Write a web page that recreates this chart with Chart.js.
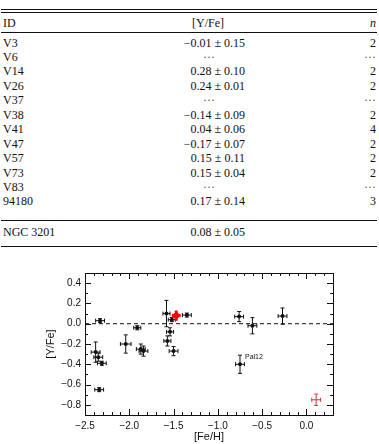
<!DOCTYPE html>
<html>
<head>
<meta charset="utf-8">
<script src="https://cdn.jsdelivr.net/npm/chart.js@4.4.1/dist/chart.umd.min.js"></script>
<style>
  html, body { margin: 0; padding: 0; background: #fff; }
  body { width: 379px; height: 444px; position: relative; overflow: hidden; }
  .t { position: absolute; font-family: "Liberation Serif", "Times New Roman", serif; font-size: 12px; color: #111; line-height: 14px; white-space: nowrap; }
  .rule { position: absolute; left: 1px; width: 376px; background: #111; }
  #wrap { position: absolute; left: 0; top: 262px; width: 379px; height: 182px; }
</style>
</head>
<body>
<div id="table"></div>
<div id="wrap"><canvas id="c" width="379" height="182"></canvas></div>
<script>
// ---------- table data ----------
const starIds   = ['V3', 'V6', 'V14', 'V26', 'V37', 'V38', 'V41', 'V47', 'V57', 'V73', 'V83', '94180'];
const starYFe   = ['\u22120.01 \u00b1 0.15', '\u00b7\u00b7\u00b7', '0.28 \u00b1 0.10', '0.24 \u00b1 0.01', '\u00b7\u00b7\u00b7', '\u22120.14 \u00b1 0.09',
                   '0.04 \u00b1 0.06', '\u22120.17 \u00b1 0.07', '0.15 \u00b1 0.11', '0.15 \u00b1 0.04', '\u00b7\u00b7\u00b7', '0.17 \u00b1 0.14'];
const starN     = ['2', '\u00b7\u00b7\u00b7', '2', '2', '\u00b7\u00b7\u00b7', '2', '4', '2', '2', '2', '\u00b7\u00b7\u00b7', '3'];
const headers   = ['ID', '[Y/Fe]', 'n'];
const meanRow   = ['NGC 3201', '0.08 \u00b1 0.05', ''];

// ---------- chart data ----------
const feh    = [-2.33, -1.91, -2.04, -1.87, -1.84, -2.38, -2.35, -2.31, -2.34, -1.58, -1.52, -1.35, -1.54, -1.57, -1.50, -0.76, -0.61, -0.27, -0.75];
const yfe    = [ 0.03, -0.04, -0.20, -0.25, -0.27, -0.28, -0.33, -0.39, -0.65,  0.10,  0.04, 0.085, -0.08, -0.17, -0.27,  0.07, -0.02, 0.075, -0.40];
const fehErr = [ 0.05,  0.04,  0.06,  0.05,  0.05,  0.05,  0.05,  0.05,  0.05,  0.04,  0.04,  0.05,  0.04,  0.04,  0.05,  0.05,  0.05,  0.05,  0.05];
const yfeErr = [ 0.02,  0.02,  0.09,  0.05,  0.05,  0.10,  0.04,  0.02,  0.02,  0.13,  0.02,  0.02,  0.04,  0.05,  0.045, 0.05,  0.08,  0.08,  0.09];
const clusterFeh = [-1.47], clusterYfe = [0.08], clusterFehErr = [0.05], clusterYfeErr = [0.05];
const sampleFeh  = [0.11],  sampleYfe  = [-0.75], sampleFehErr = [0.05], sampleYfeErr = [0.056];
const refLineY = [0, 0];
const refLineX = [-2.5, 0.3];
const pointLabels = [{ index: 18, text: 'Pal12' }];
const xTickValues = [-2.5, -2.0, -1.5, -1.0, -0.5, 0.0];
const xTickLabels = ['\u22122.5', '\u22122.0', '\u22121.5', '\u22121.0', '\u22120.5', '0.0'];
const yTickValues = [-0.8, -0.6, -0.4, -0.2, 0.0, 0.2, 0.4];
const yTickLabels = ['\u22120.8', '\u22120.6', '\u22120.4', '\u22120.2', '0.0', '0.2', '0.4'];

// ---------- build table ----------
(function () {
  const T = document.getElementById('table');
  function txt(s, x, yc, align, extra) {
    const d = document.createElement('div');
    d.className = 't';
    d.textContent = s;
    d.style.top = (yc - 7) + 'px';
    if (align === 'left') d.style.left = x + 'px';
    else if (align === 'right') d.style.right = (379 - x) + 'px';
    else { d.style.left = (x - 60) + 'px'; d.style.width = '120px'; d.style.textAlign = 'center'; }
    if (extra) Object.assign(d.style, extra);
    T.appendChild(d);
  }
  function rule(y, h) {
    const r = document.createElement('div');
    r.className = 'rule'; r.style.top = y + 'px'; r.style.height = h + 'px';
    T.appendChild(r);
  }
  rule(9, 1.2); rule(12, 1);
  txt(headers[0], 3, 22.5, 'left');
  txt(headers[1], 208, 22.5, 'center');
  txt(headers[2], 376, 22.5, 'right', { fontStyle: 'italic' });
  rule(31.5, 1);
  starIds.forEach((id, i) => {
    const yc = 42.5 + i * 14.45;
    txt(id, 3, yc, 'left');
    if (starYFe[i].indexOf('\u00b1') >= 0) txt(starYFe[i], 245, yc, 'right');
    else txt(starYFe[i], 209, yc, 'center', { color: '#555' });
    txt(starN[i], 376, yc, 'right', starN[i].length > 1 ? { color: '#555' } : null);
  });
  rule(219.5, 1.3);
  txt(meanRow[0], 3, 231.5, 'left');
  txt(meanRow[1], 245, 231.5, 'right');
  rule(245.5, 1.3);
})();

// ---------- chart ----------
const toPts = (xs, ys) => xs.map((x, i) => ({ x: x, y: ys[i] }));

const errorBarPlugin = {
  id: 'errorBars',
  afterDatasetsDraw(chart) {
    const ctx = chart.ctx, xs = chart.scales.x, ys = chart.scales.y;
    chart.data.datasets.forEach(ds => {
      if (!ds.errX) return;
      ctx.save();
      ctx.strokeStyle = ds.errColor;
      ctx.lineWidth = ds.errWidth;
      ds.data.forEach((p, i) => {
        const px = xs.getPixelForValue(p.x), py = ys.getPixelForValue(p.y);
        const x0 = xs.getPixelForValue(p.x - ds.errX[i]), x1 = xs.getPixelForValue(p.x + ds.errX[i]);
        const y0 = ys.getPixelForValue(p.y - ds.errY[i]), y1 = ys.getPixelForValue(p.y + ds.errY[i]);
        const c = ds.capSize;
        ctx.beginPath();
        ctx.moveTo(x0, py); ctx.lineTo(x1, py);
        ctx.moveTo(px, y0); ctx.lineTo(px, y1);
        if (c > 0) {
          ctx.moveTo(x0, py - c); ctx.lineTo(x0, py + c);
          ctx.moveTo(x1, py - c); ctx.lineTo(x1, py + c);
          ctx.moveTo(px - c, y0); ctx.lineTo(px + c, y0);
          ctx.moveTo(px - c, y1); ctx.lineTo(px + c, y1);
        }
        ctx.stroke();
      });
      ctx.restore();
    });
    // point labels
    const ds0 = chart.data.datasets[1];
    ctx.save();
    ctx.font = '7px "Liberation Sans", Arial, sans-serif';
    ctx.fillStyle = '#111';
    ctx.textBaseline = 'middle';
    pointLabels.forEach(l => {
      const p = ds0.data[l.index];
      ctx.fillText(l.text, xs.getPixelForValue(p.x) + 5, ys.getPixelForValue(p.y) - 7);
    });
    ctx.restore();
  }
};

const framePlugin = {
  id: 'frameTicks',
  afterDraw(chart) {
    const ctx = chart.ctx, a = chart.chartArea, xs = chart.scales.x, ys = chart.scales.y;
    ctx.save();
    ctx.strokeStyle = '#111';
    ctx.lineWidth = 1;
    ctx.strokeRect(Math.round(a.left) + 0.5, Math.round(a.top) + 0.5, Math.round(a.right - a.left), Math.round(a.bottom - a.top));
    ctx.beginPath();
    // x ticks (minor every 0.1, major every 0.5)
    for (let k = -25; k <= 3; k++) {
      const v = k / 10;
      const px = Math.round(xs.getPixelForValue(v)) + 0.5;
      const len = (k % 5 === 0) ? 6 : 3;
      ctx.moveTo(px, a.bottom); ctx.lineTo(px, a.bottom - len);
      ctx.moveTo(px, a.top); ctx.lineTo(px, a.top + len);
    }
    // y ticks (minor every 0.1, major every 0.2)
    for (let k = -9; k <= 5; k++) {
      const v = k / 10;
      const py = Math.round(ys.getPixelForValue(v)) + 0.5;
      const len = (k % 2 === 0) ? 6 : 3;
      ctx.moveTo(a.left, py); ctx.lineTo(a.left + len, py);
      ctx.moveTo(a.right, py); ctx.lineTo(a.right - len, py);
    }
    ctx.stroke();
    ctx.restore();
  }
};

const sans = '"Liberation Sans", Arial, sans-serif';

new Chart(document.getElementById('c'), {
  type: 'scatter',
  data: {
    datasets: [
      {
        type: 'line',
        data: toPts(refLineX, refLineY),
        borderColor: '#111', borderWidth: 1, borderDash: [4, 3],
        pointRadius: 0, fill: false
      },
      {
        data: toPts(feh, yfe),
        pointStyle: 'circle', pointRadius: 2, backgroundColor: '#111', borderColor: '#111', borderWidth: 0,
        errX: fehErr, errY: yfeErr, errColor: '#111', errWidth: 1, capSize: 2
      },
      {
        data: toPts(clusterFeh, clusterYfe),
        pointStyle: 'circle', pointRadius: 3, backgroundColor: '#ff0000', borderColor: '#ff0000', borderWidth: 0,
        errX: clusterFehErr, errY: clusterYfeErr, errColor: '#ff0000', errWidth: 3, capSize: 0
      },
      {
        data: toPts(sampleFeh, sampleYfe),
        pointRadius: 0,
        errX: sampleFehErr, errY: sampleYfeErr, errColor: '#e03030', errWidth: 1, capSize: 2
      }
    ]
  },
  options: {
    responsive: false,
    maintainAspectRatio: false,
    animation: false,
    devicePixelRatio: 1,
    layout: { padding: { top: 11, right: 46, left: 0, bottom: 0 } },
    plugins: { legend: { display: false }, tooltip: { enabled: false } },
    scales: {
      x: {
        type: 'linear', min: -2.5, max: 0.3,
        grid: { display: false, drawTicks: false },
        border: { display: false },
        afterBuildTicks: s => { s.ticks = xTickValues.map(v => ({ value: v })); },
        afterFit: s => { s.height = 29; },
        ticks: {
          padding: 5, maxRotation: 0, autoSkip: false,
          color: '#111', font: { family: sans, size: 10 },
          callback: (v) => xTickLabels[xTickValues.findIndex(t => Math.abs(t - v) < 1e-9)]
        },
        title: { display: true, text: '[Fe/H]', color: '#111', font: { family: sans, size: 11 }, padding: { top: 0, bottom: 0 } }
      },
      y: {
        type: 'linear', min: -0.9, max: 0.5,
        grid: { display: false, drawTicks: false },
        border: { display: false },
        afterBuildTicks: s => { s.ticks = yTickValues.map(v => ({ value: v })); },
        afterFit: s => { s.width = 85; },
        ticks: {
          padding: 4, autoSkip: false,
          color: '#111', font: { family: sans, size: 10 },
          callback: (v) => yTickLabels[yTickValues.findIndex(t => Math.abs(t - v) < 1e-9)]
        },
        title: { display: true, text: '[Y/Fe]', color: '#111', font: { family: sans, size: 11 }, padding: { top: 44, bottom: 0 } }
      }
    }
  },
  plugins: [errorBarPlugin, framePlugin]
});
</script>
</body>
</html>
